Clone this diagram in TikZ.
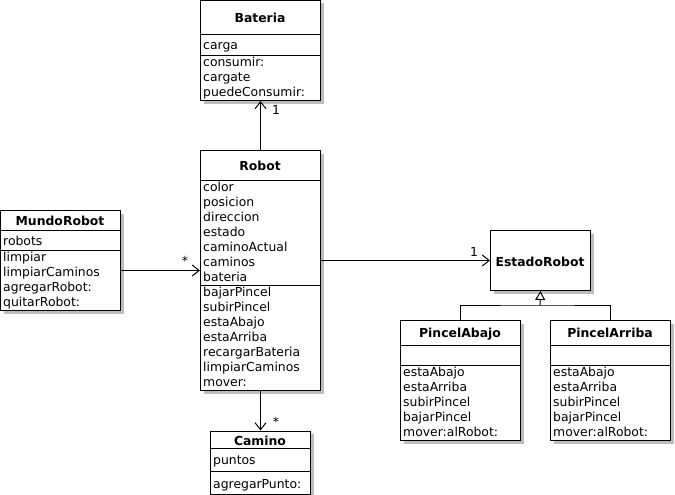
\documentclass[tikz,border=0pt]{standalone}
\usepackage{fontspec}
\setmainfont{DejaVu Sans}
\usetikzlibrary{shadows,arrows.meta}
\definecolor{shadowgray}{HTML}{BDBDBD}
\begin{document}
\begin{tikzpicture}[x=1pt,y=-1pt,
  box/.style={draw=black, line width=1pt, fill=white, inner sep=0pt, anchor=north west,
    drop shadow={shadow xshift=3pt, shadow yshift=-3pt, fill=shadowgray, opacity=1}},
  div/.style={line width=1pt},
  mem/.style={anchor=base west, inner sep=0pt, font=\fontsize{12.4}{15}\selectfont},
  ttl/.style={anchor=base, inner sep=0pt, font=\fontsize{12.4}{15}\selectfont\bfseries},
  mult/.style={anchor=base, inner sep=0pt, font=\fontsize{12.4}{15}\selectfont},
  conn/.style={line width=1pt},
  assoc/.style={conn, -{Straight Barb[length=7pt,width=11pt,line width=1pt]}},
  gen/.style={conn, -{Triangle[open,length=9pt,width=10pt,line width=1pt,fill=white]}}]
\useasboundingbox (0,0) rectangle (675,495);

% Bateria
\node[box, minimum width=120pt, minimum height=100pt] (bat) at (200,0) {};
\draw[div] (200,35) -- (320,35);
\draw[div] (200,56) -- (320,56);
\node[ttl] (batT) at (260,22.3) {Bateria};
\node[mem] (bat1) at (203,50) {carga};
\node[mem] (bat2) at (203,66.7) {consumir:};
\node[mem] (bat3) at (203,81.7) {cargate};
\node[mem] (bat4) at (203,96.7) {puedeConsumir:};

% Robot
\node[box, minimum width=120pt, minimum height=240pt] (rob) at (200,150) {};
\draw[div] (200,180) -- (320,180);
\draw[div] (200,285.7) -- (320,285.7);
\node[ttl] (robT) at (260,170) {Robot};
\node[mem] (rob1) at (203,191.7) {color};
\node[mem] (rob2) at (203,206.7) {posicion};
\node[mem] (rob3) at (203,221.7) {direccion};
\node[mem] (rob4) at (203,236.7) {estado};
\node[mem] (rob5) at (203,251.7) {caminoActual};
\node[mem] (rob6) at (203,266.7) {caminos};
\node[mem] (rob7) at (203,281.7) {bateria};
\node[mem] (rob8) at (203,296.7) {bajarPincel};
\node[mem] (rob9) at (203,311.7) {subirPincel};
\node[mem] (rob10) at (203,326.7) {estaAbajo};
\node[mem] (rob11) at (203,341.7) {estaArriba};
\node[mem] (rob12) at (203,356.7) {recargarBateria};
\node[mem] (rob13) at (203,371.7) {limpiarCaminos};
\node[mem] (rob14) at (203,386.7) {mover:};

% MundoRobot
\node[box, minimum width=120pt, minimum height=100pt] (mun) at (0,210) {};
\draw[div] (0,230.7) -- (120,230.7);
\draw[div] (0,250.7) -- (120,250.7);
\node[ttl] (munT) at (60,225) {MundoRobot};
\node[mem] (mun1) at (3,245) {robots};
\node[mem] (mun2) at (3,261.7) {limpiar};
\node[mem] (mun3) at (3,276.7) {limpiarCaminos};
\node[mem] (mun4) at (3,291.7) {agregarRobot:};
\node[mem] (mun5) at (3,306.7) {quitarRobot:};

% EstadoRobot
\node[box, minimum width=100pt, minimum height=60pt] (est) at (490,230) {};
\node[ttl] (estT) at (540,266) {EstadoRobot};

% PincelAbajo
\node[box, minimum width=120pt, minimum height=120pt] (pab) at (400,320) {};
\draw[div] (400,345) -- (520,345);
\draw[div] (400,365) -- (520,365);
\node[ttl] (pabT) at (460,337) {PincelAbajo};
\node[mem] (pab1) at (403,376.7) {estaAbajo};
\node[mem] (pab2) at (403,391.7) {estaArriba};
\node[mem] (pab3) at (403,406.7) {subirPincel};
\node[mem] (pab4) at (403,421.7) {bajarPincel};
\node[mem] (pab5) at (403,436.7) {mover:alRobot:};

% PincelArriba
\node[box, minimum width=120pt, minimum height=120pt] (par) at (550,320) {};
\draw[div] (550,345) -- (670,345);
\draw[div] (550,365) -- (670,365);
\node[ttl] (parT) at (610,337) {PincelArriba};
\node[mem] (par1) at (553,376.7) {estaAbajo};
\node[mem] (par2) at (553,391.7) {estaArriba};
\node[mem] (par3) at (553,406.7) {subirPincel};
\node[mem] (par4) at (553,421.7) {bajarPincel};
\node[mem] (par5) at (553,436.7) {mover:alRobot:};

% Camino
\node[box, minimum width=100pt, minimum height=63.5pt] (cam) at (210,430.5) {};
\draw[div] (210,448.5) -- (310,448.5);
\draw[div] (210,471) -- (310,471);
\node[ttl] (camT) at (260,445) {Camino};
\node[mem] (cam1) at (213,464.5) {puntos};
\node[mem] (cam2) at (213,488) {agregarPunto:};

% connectors
\draw[assoc] (rob.north) -- (bat.south);
\node[mult] (m1) at (276,114.5) {1};
\draw[assoc] (mun.east |- rob.west) -- (rob.west);
\node[mult] (m2) at (185,265) {*};
\draw[assoc] (rob.east |- est.west) -- (est.west);
\node[mult] (m3) at (474,256.5) {1};
\draw[assoc] (rob.south) -- (cam.north);
\node[mult] (m4) at (276,426) {*};

% generalization
\coordinate (g) at (540,305);
\draw[conn] (pab.north) |- (g) -| (par.north);
\draw[gen] (g) -- (est.south);
\end{tikzpicture}
\end{document}
